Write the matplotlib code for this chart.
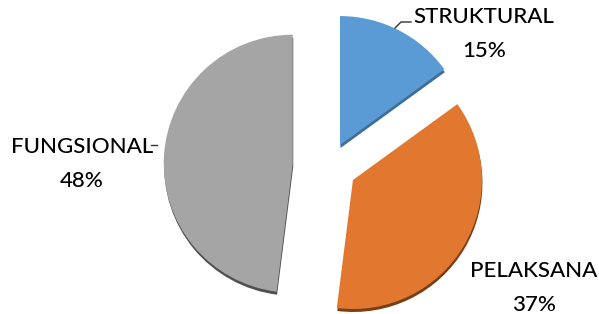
import matplotlib
matplotlib.use("Agg")
import matplotlib.pyplot as plt

categories = ["STRUKTURAL", "PELAKSANA", "FUNGSIONAL"]
values = [15, 37, 48]
colors = ["#5B9BD5", "#E2782F", "#A5A5A5"]
shadow_colors = ["#3F6E98", "#7A3E14", "#505050"]
explode_frac = [0.182, 0.213, 0.284]

W, H = 599, 314
fig = plt.figure(figsize=(W / 100, H / 100), dpi=100)
ax = fig.add_axes([0, 0, 1, 1])

R = 129
cx, cy = 329.3, H - 166
explode = [e * R for e in explode_frac]

# shadow / depth rim
ax.pie(values, colors=shadow_colors, startangle=90, counterclock=False,
       explode=explode, radius=R, center=(cx + 0.5, cy - 3),
       wedgeprops=dict(linewidth=0))
ax.pie(values, colors=colors, startangle=90, counterclock=False,
       explode=explode, radius=R, center=(cx, cy),
       wedgeprops=dict(linewidth=0))

ax.set_xlim(0, W)
ax.set_ylim(0, H)
ax.set_aspect("equal")
ax.axis("off")

font = "Lato"
fs = 16
label_pos = {
    "STRUKTURAL": (484, 17, 51),
    "PELAKSANA": (534, 271, 305),
    "FUNGSIONAL": (82, 147, 181),
}
for cat, v in zip(categories, values):
    x, y1, y2 = label_pos[cat]
    ax.text(x, H - y1, cat, ha="center", va="center", fontsize=fs,
            family=font, color="black", weight="medium")
    ax.text(x, H - y2, f"{v}%", ha="center", va="center", fontsize=fs,
            family=font, color="black", weight="medium")

# leader lines
ax.plot([395, 401, 411], [H - 28, H - 22, H - 22], color="#333333", lw=1)
ax.plot([151, 157], [H - 145, H - 145], color="#333333", lw=1)

fig.savefig("out.png", dpi=100)
